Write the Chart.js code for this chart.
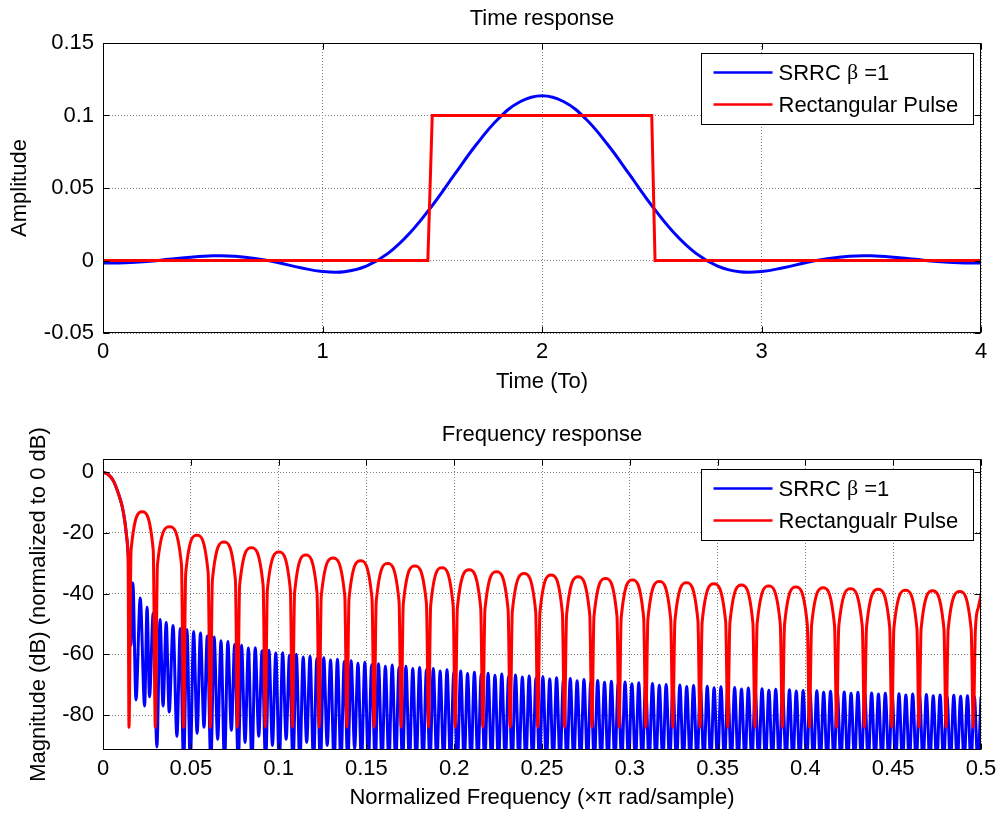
<!DOCTYPE html>
<html>
<head>
<meta charset="utf-8">
<title>SRRC vs rectangular pulse</title>
<script src="https://cdn.jsdelivr.net/npm/chart.js@4.4.1/dist/chart.umd.min.js"></script>
<style>
  html, body { margin: 0; padding: 0; background: #fff; }
  #wrap { position: relative; width: 1004px; height: 816px; }
  #timeChart { position: absolute; left: 0; top: 0; }
  #freqChart { position: absolute; left: 0; top: 400px; }
</style>
</head>
<body>
<div id="wrap">
  <canvas id="timeChart" width="1004" height="400"></canvas>
  <canvas id="freqChart" width="1004" height="416"></canvas>
</div>
<script>
(function () {
  "use strict";

  // ---- time response (t in units of To) ----
  const timeT = [
    0, 0.1, 0.2, 0.3, 0.4, 0.5, 0.6, 0.7, 0.8, 0.9,
    1.0, 1.1, 1.2, 1.3, 1.4, 1.5, 1.6, 1.7, 1.8, 1.9,
    2.0, 2.1, 2.2, 2.3, 2.4, 2.5, 2.6, 2.7, 2.8, 2.9,
    3.0, 3.1, 3.2, 3.3, 3.4, 3.5, 3.6, 3.7, 3.8, 3.9, 4.0,
  ];
  const srrcAmp = [
    -0.0018, -0.0016, -0.0007, 0.0008, 0.0023, 0.0032, 0.003, 0.0013, -0.0016, -0.005,
    -0.0076, -0.0077, -0.0038, 0.0051, 0.0193, 0.0379, 0.059, 0.0798, 0.0976, 0.1095,
    0.1137, 0.1095, 0.0976, 0.0798, 0.059, 0.0379, 0.0193, 0.0051, -0.0038, -0.0077,
    -0.0076, -0.005, -0.0016, 0.0013, 0.003, 0.0032, 0.0023, 0.0008, -0.0007, -0.0016, -0.0018,
  ];
  const rectT = [0, 1.48, 1.5, 2.5, 2.515, 4];
  const rectAmp = [0, 0, 0.1, 0.1, 0, 0];

  const timeTicks = [0, 1, 2, 3, 4];
  const ampTicks = [-0.05, 0, 0.05, 0.1, 0.15];
  const timeLegend = ["SRRC β =1", "Rectangular Pulse"];

  // ---- frequency response (x pi rad/sample, dB) ----
  const rectFreq = [
    0, 0.003, 0.006, 0.009, 0.011, 0.0125, 0.0136, 0.0143, 0.0148,
    0.016, 0.0223, 0.0286, 0.0298,
    0.031, 0.0379, 0.0447, 0.0459,
    0.0471, 0.0535, 0.0599, 0.0611,
    0.0623, 0.0689, 0.0754, 0.0766,
    0.0778, 0.0845, 0.0912, 0.0924,
    0.0936, 0.1002, 0.1067, 0.1079,
    0.1091, 0.1155, 0.1219, 0.1231,
    0.1243, 0.131, 0.1377, 0.1389,
    0.1401, 0.1467, 0.1532, 0.1544,
    0.1556, 0.1621, 0.1686, 0.1698,
    0.171, 0.1776, 0.1842, 0.1854,
    0.1866, 0.193, 0.1994, 0.2006,
    0.2018, 0.2085, 0.2151, 0.2163,
    0.2175, 0.2241, 0.2307, 0.2319,
    0.2331, 0.2398, 0.2464, 0.2476,
    0.2488, 0.2552, 0.2616, 0.2628,
    0.264, 0.2706, 0.2772, 0.2784,
    0.2796, 0.2862, 0.2927, 0.2939,
    0.2951, 0.3015, 0.3079, 0.3091,
    0.3103, 0.3168, 0.3233, 0.3245,
    0.3257, 0.3323, 0.3388, 0.34,
    0.3412, 0.3479, 0.3546, 0.3558,
    0.357, 0.3636, 0.3701, 0.3713,
    0.3725, 0.3791, 0.3857, 0.3869,
    0.3881, 0.3946, 0.4011, 0.4023,
    0.4035, 0.4101, 0.4166, 0.4178,
    0.419, 0.4257, 0.4324, 0.4336,
    0.4348, 0.4414, 0.448, 0.4492,
    0.4504, 0.457, 0.4635, 0.4647,
    0.4659, 0.4724, 0.4789, 0.4801,
    0.4813, 0.4879, 0.4944, 0.4956,
    0.4968, 0.4985, 0.5,
  ];
  const rectDb = [
    0, -0.8, -3, -7.5, -11.5, -16.5, -22, -30, -84,
    -25.6, -13.1, -25.6, -84,
    -30.5, -18.0, -30.5, -84,
    -33.3, -20.8, -33.3, -84,
    -35.5, -23.0, -35.5, -84,
    -37.4, -24.9, -37.4, -84,
    -38.8, -26.3, -38.8, -84,
    -39.8, -27.3, -39.8, -84,
    -40.8, -28.3, -40.8, -84,
    -41.7, -29.2, -41.7, -84,
    -42.6, -30.1, -42.6, -84,
    -43.4, -30.9, -43.4, -84,
    -44.0, -31.5, -44.0, -84,
    -44.7, -32.2, -44.7, -84,
    -45.3, -32.8, -45.3, -84,
    -45.9, -33.4, -45.9, -84,
    -46.4, -33.9, -46.4, -84,
    -47.0, -34.5, -47.0, -84,
    -47.5, -35.0, -47.5, -84,
    -48.0, -35.5, -48.0, -84,
    -48.5, -36.0, -48.5, -84,
    -48.9, -36.4, -48.9, -84,
    -49.3, -36.8, -49.3, -84,
    -49.7, -37.2, -49.7, -84,
    -50.0, -37.5, -50.0, -84,
    -50.3, -37.8, -50.3, -84,
    -50.6, -38.1, -50.6, -84,
    -50.9, -38.4, -50.9, -84,
    -51.1, -38.6, -51.1, -84,
    -51.4, -38.9, -51.4, -84,
    -51.6, -39.1, -51.6, -84,
    -51.8, -39.3, -51.8, -84,
    -52.0, -44.5, -40.5,
  ];

  // SRRC: main lobe, then alternating null / sidelobe peak
  const srrcFreq = [
    0, 0.003, 0.006, 0.009, 0.011, 0.0125, 0.0136, 0.0145, 0.0152,
    0.0159, 0.017, 0.0188, 0.0212, 0.0237, 0.0251, 0.0265, 0.0286,
    0.0307, 0.0325, 0.0342, 0.036, 0.0377, 0.0399, 0.0421, 0.044,
    0.0459, 0.0478, 0.0497, 0.0516,
    0.0536, 0.0555, 0.0575, 0.0594, 0.0614, 0.0633, 0.0653, 0.0672,
    0.0692, 0.0711, 0.0731, 0.075, 0.077, 0.0789, 0.0809, 0.0828,
    0.0848, 0.0867, 0.0887, 0.0906, 0.0926, 0.0945, 0.0965, 0.0984,
    0.1004, 0.1023, 0.1043, 0.1062, 0.1082, 0.1101, 0.1121, 0.114,
    0.116, 0.1179, 0.1199, 0.1218, 0.1238, 0.1257, 0.1277, 0.1296,
    0.1316, 0.1335, 0.1355, 0.1374, 0.1394, 0.1413, 0.1433, 0.1452,
    0.1472, 0.1491, 0.1511, 0.153, 0.155, 0.1569, 0.1589, 0.1608,
    0.1628, 0.1647, 0.1667, 0.1686, 0.1706, 0.1725, 0.1745, 0.1764,
    0.1784, 0.1803, 0.1823, 0.1842, 0.1862, 0.1881, 0.1901, 0.192,
    0.194, 0.1959, 0.1979, 0.1998, 0.2018, 0.2037, 0.2057, 0.2076,
    0.2096, 0.2115, 0.2135, 0.2154, 0.2174, 0.2193, 0.2213, 0.2232,
    0.2252, 0.2271, 0.2291, 0.231, 0.233, 0.2349, 0.2369, 0.2388,
    0.2408, 0.2427, 0.2447, 0.2466, 0.2486, 0.2505, 0.2525, 0.2544,
    0.2564, 0.2583, 0.2603, 0.2622, 0.2642, 0.2661, 0.2681, 0.27,
    0.272, 0.2739, 0.2759, 0.2778, 0.2798, 0.2817, 0.2837, 0.2856,
    0.2876, 0.2895, 0.2915, 0.2934, 0.2954, 0.2973, 0.2993, 0.3012,
    0.3032, 0.3051, 0.3071, 0.309, 0.311, 0.3129, 0.3149, 0.3168,
    0.3188, 0.3207, 0.3227, 0.3246, 0.3266, 0.3285, 0.3305, 0.3324,
    0.3344, 0.3363, 0.3383, 0.3402, 0.3422, 0.3441, 0.3461, 0.348,
    0.35, 0.3519, 0.3539, 0.3558, 0.3578, 0.3597, 0.3617, 0.3636,
    0.3656, 0.3675, 0.3695, 0.3714, 0.3734, 0.3753, 0.3773, 0.3792,
    0.3812, 0.3831, 0.3851, 0.387, 0.389, 0.3909, 0.3929, 0.3948,
    0.3968, 0.3987, 0.4007, 0.4026, 0.4046, 0.4065, 0.4085, 0.4104,
    0.4124, 0.4143, 0.4163, 0.4182, 0.4202, 0.4221, 0.4241, 0.426,
    0.428, 0.4299, 0.4319, 0.4338, 0.4358, 0.4377, 0.4397, 0.4416,
    0.4436, 0.4455, 0.4475, 0.4494, 0.4514, 0.4533, 0.4553, 0.4572,
    0.4592, 0.4611, 0.4631, 0.465, 0.467, 0.4689, 0.4709, 0.4728,
    0.4748, 0.4767, 0.4787, 0.4806, 0.4826, 0.4845, 0.4865, 0.4884,
    0.4904, 0.4923, 0.4943, 0.4962,
    0.4982, 0.5,
  ];
  const srrcDb = [
    0, -0.8, -3, -7.5, -11.5, -16.5, -22, -28, -34,
    -57, -36.5, -75, -41.5, -77, -44.5, -74, -46.5,
    -90.5, -48.5, -77, -49.5, -79, -50.5, -87, -51.5,
    -96, -51.8, -96, -52.5,
    -86, -53.0, -84, -54.0, -96, -54.3, -88, -55.5,
    -96, -55.8, -85, -56.8, -96, -57.0, -89, -57.9,
    -96, -57.8, -87, -58.8, -96, -58.7, -90, -59.6,
    -96, -59.5, -88, -60.3, -96, -60.0, -96, -60.9,
    -89, -60.6, -96, -61.4, -96, -61.1, -90, -61.9,
    -96, -61.6, -96, -62.4, -96, -62.1, -91, -62.9,
    -96, -62.6, -96, -63.4, -96, -63.1, -96, -63.9,
    -96, -63.5, -96, -64.3, -96, -63.9, -96, -64.7,
    -96, -64.3, -96, -65.1, -96, -64.7, -96, -65.5,
    -96, -65.1, -96, -65.9, -96, -65.5, -96, -66.3,
    -96, -65.9, -96, -66.6, -96, -66.2, -96, -66.9,
    -96, -66.5, -96, -67.2, -96, -66.8, -96, -67.5,
    -96, -67.1, -96, -67.8, -96, -67.4, -96, -68.1,
    -96, -67.7, -96, -68.4, -96, -68.0, -96, -68.7,
    -96, -68.3, -96, -69.0, -96, -68.6, -96, -69.2,
    -96, -68.9, -96, -69.5, -96, -69.1, -96, -69.7,
    -96, -69.4, -96, -70.0, -96, -69.6, -96, -70.2,
    -96, -69.9, -96, -70.4, -96, -70.1, -96, -70.6,
    -96, -70.3, -96, -70.8, -96, -70.5, -96, -71.0,
    -96, -70.7, -96, -71.2, -96, -70.9, -96, -71.4,
    -96, -71.1, -96, -71.6, -96, -71.3, -96, -71.8,
    -96, -71.5, -96, -72.0, -96, -71.7, -96, -72.1,
    -96, -71.9, -96, -72.3, -96, -72.0, -96, -72.5,
    -96, -72.2, -96, -72.6, -96, -72.4, -96, -72.8,
    -96, -72.5, -96, -72.9, -96, -72.7, -96, -73.1,
    -96, -72.8, -96, -73.2, -96, -73.0, -96, -73.4,
    -96, -73.1, -96, -73.5, -96, -73.2, -96, -73.6,
    -96, -73.4, -96, -73.7, -96, -73.5, -96, -73.8,
    -96, -73.6, -96, -73.9,
    -96, -74,
  ];

  const freqTicks = [0, 0.05, 0.1, 0.15, 0.2, 0.25, 0.3, 0.35, 0.4, 0.45, 0.5];
  const dbTicks = [-80, -60, -40, -20, 0];
  const freqLegend = ["SRRC β =1", "Rectangualr Pulse"];

  if (srrcFreq.length !== srrcDb.length || rectFreq.length !== rectDb.length) {
    console.warn("frequency arrays differ in length");
  }

  const SANS = '"Liberation Sans", Arial, sans-serif';
  Chart.defaults.font.family = SANS;
  Chart.defaults.font.size = 22;
  Chart.defaults.color = "#000";

  const toPoints = (xs, ys) => xs.map((x, i) => ({ x: x, y: ys[i] }));
  const fmt = (v) => String(+Number(v).toFixed(2));

  // black box with inward tick marks on all four sides, like MATLAB axes
  const matlabAxes = {
    id: "matlabAxes",
    afterDatasetsDraw(chart) {
      const { ctx, chartArea: a, scales } = chart;
      const l = Math.round(a.left) + 0.5;
      const r = Math.round(a.right) - 0.5;
      const t = Math.round(a.top) + 0.5;
      const b = Math.round(a.bottom) - 0.5;
      ctx.save();
      ctx.strokeStyle = "#000";
      ctx.lineWidth = 1;
      ctx.strokeRect(l, t, r - l, b - t);
      ctx.beginPath();
      scales.x.ticks.forEach((tk) => {
        const px = Math.round(scales.x.getPixelForValue(tk.value)) + 0.5;
        ctx.moveTo(px, b);
        ctx.lineTo(px, b - 6);
        ctx.moveTo(px, t);
        ctx.lineTo(px, t + 6);
      });
      scales.y.ticks.forEach((tk) => {
        const py = Math.round(scales.y.getPixelForValue(tk.value)) + 0.5;
        ctx.moveTo(l, py);
        ctx.lineTo(l + 6, py);
        ctx.moveTo(r, py);
        ctx.lineTo(r - 6, py);
      });
      ctx.stroke();
      ctx.restore();
    },
  };

  // boxed legend in the top-right corner of the plot
  const boxLegend = {
    id: "boxLegend",
    afterDraw(chart, args, opts) {
      if (!opts.labels) return;
      const { ctx, chartArea: a } = chart;
      const w = 272;
      const h = 71;
      const x0 = Math.round(a.right - 8 - w) + 0.5;
      const y0 = Math.round(a.top + 10) + 0.5;
      ctx.save();
      ctx.fillStyle = "#fff";
      ctx.fillRect(x0, y0, w, h);
      ctx.strokeStyle = "#000";
      ctx.lineWidth = 1;
      ctx.strokeRect(x0, y0, w, h);
      opts.labels.forEach((label, i) => {
        const y = y0 + 19 + i * 32;
        ctx.strokeStyle = chart.data.datasets[i].borderColor;
        ctx.lineWidth = 2.5;
        ctx.beginPath();
        ctx.moveTo(x0 + 12, y);
        ctx.lineTo(x0 + 71, y);
        ctx.stroke();
        ctx.fillStyle = "#000";
        ctx.textBaseline = "middle";
        let x = x0 + 77;
        label.split(/(β)/).forEach((part) => {
          if (!part) return;
          ctx.font = part === "β" ? '22px "Liberation Serif", serif' : "22px " + SANS;
          ctx.fillText(part, x, y + 1);
          x += ctx.measureText(part).width;
        });
      });
      ctx.restore();
    },
  };

  const makeScales = (cfg) => ({
    x: {
      type: "linear",
      min: cfg.xMin,
      max: cfg.xMax,
      afterBuildTicks: (s) => {
        s.ticks = cfg.xTicks.map((v) => ({ value: v }));
      },
      afterFit: (s) => {
        s.height = cfg.xHeight;
      },
      ticks: { autoSkip: false, maxRotation: 0, padding: 6, callback: fmt },
      grid: { color: "#808080", drawTicks: false },
      border: { display: false, dash: [1, 2] },
      title: { display: true, text: cfg.xTitle, padding: { top: 0, bottom: cfg.xTitlePad } },
    },
    y: {
      type: "linear",
      min: cfg.yMin,
      max: cfg.yMax,
      afterBuildTicks: (s) => {
        s.ticks = cfg.yTicks.map((v) => ({ value: v }));
      },
      afterFit: (s) => {
        s.width = 103;
      },
      ticks: { autoSkip: false, padding: 9, callback: fmt },
      grid: { color: "#808080", drawTicks: false },
      border: { display: false, dash: [1, 2] },
      title: { display: true, text: cfg.yTitle, padding: { top: cfg.yTitlePad, bottom: 0 } },
    },
  });

  const baseOptions = (cfg) => ({
    responsive: false,
    animation: false,
    events: [],
    layout: { padding: { left: 0, right: 23, top: 0, bottom: 0 } },
    elements: { point: { radius: 0 } },
    scales: makeScales(cfg),
    plugins: {
      legend: { display: false },
      tooltip: { enabled: false },
      title: {
        display: true,
        text: cfg.title,
        fullSize: false,
        font: { size: 22, weight: "normal" },
        padding: cfg.titlePad,
      },
      boxLegend: { labels: cfg.legend },
    },
  });

  new Chart(document.getElementById("timeChart"), {
    type: "line",
    data: {
      datasets: [
        {
          label: timeLegend[0],
          data: toPoints(timeT, srrcAmp),
          borderColor: "#0000ff",
          borderWidth: 3,
          tension: 0.4,
          order: 1,
        },
        {
          label: timeLegend[1],
          data: toPoints(rectT, rectAmp),
          borderColor: "#ff0000",
          borderWidth: 3,
          tension: 0,
          order: 0,
        },
      ],
    },
    options: baseOptions({
      title: "Time response",
      titlePad: { top: 6, bottom: 10.6 },
      xMin: 0, xMax: 4, xTicks: timeTicks, xHeight: 67,
      xTitle: "Time (To)", xTitlePad: 4.8,
      yMin: -0.05, yMax: 0.15, yTicks: ampTicks,
      yTitle: "Amplitude", yTitlePad: 6.8,
      legend: timeLegend,
    }),
    plugins: [matlabAxes, boxLegend],
  });

  new Chart(document.getElementById("freqChart"), {
    type: "line",
    data: {
      datasets: [
        {
          label: freqLegend[0],
          data: toPoints(srrcFreq, srrcDb),
          borderColor: "#0000ff",
          borderWidth: 3,
          cubicInterpolationMode: "monotone",
          order: 1,
        },
        {
          label: freqLegend[1],
          data: toPoints(rectFreq, rectDb),
          borderColor: "#ff0000",
          borderWidth: 3,
          cubicInterpolationMode: "monotone",
          order: 0,
        },
      ],
    },
    options: baseOptions({
      title: "Frequency response",
      titlePad: { top: 21.8, bottom: 10.8 },
      xMin: 0, xMax: 0.5, xTicks: freqTicks, xHeight: 66,
      xTitle: "Normalized Frequency (×π rad/sample)", xTitlePad: 5.3,
      yMin: -91.5, yMax: 4.3, yTicks: dbTicks,
      yTitle: "Magnitude (dB) (normalized to 0 dB)", yTitlePad: 25.8,
      legend: freqLegend,
    }),
    plugins: [matlabAxes, boxLegend],
  });
})();
</script>
</body>
</html>
